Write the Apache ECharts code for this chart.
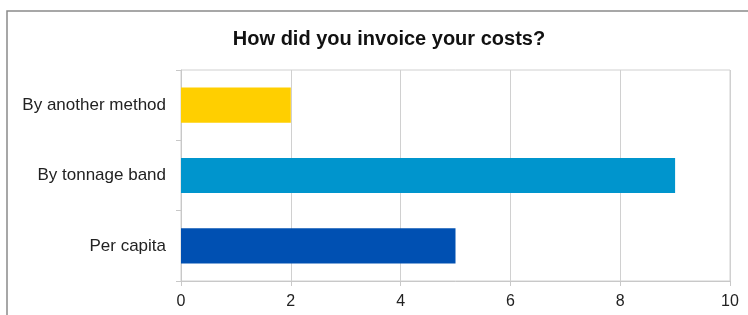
<!DOCTYPE html>
<head>
    <meta charset="utf-8">
    <title>ECharts</title>
</head>
<body style="margin:0px;padding:0px;background:#fff;">
    <div id="main" style="width:748px;height:315px;"></div>
    <script src="https://cdn.jsdelivr.net/npm/echarts@6/dist/echarts.min.js"></script>
    <script type="text/javascript">
    // categories bottom -> top
    var categories = ['Per capita', 'By tonnage band', 'By another method'];
    var values = [5, 9, 2];
    var barColors = ['#0050b2', '#0095cd', '#ffcf00'];
    var xTicks = [0, 2, 4, 6, 8, 10];

    var myChart = echarts.init(document.getElementById('main'));

    var option = {
        backgroundColor: '#fff',
        textStyle: { fontFamily: 'Liberation Sans, Arial, sans-serif' },
        title: {
            text: 'How did you invoice your costs?',
            left: 384,
            textAlign: 'center',
            top: 24,
            textStyle: { fontSize: 20, fontWeight: 'bold', color: '#111' }
        },
        graphic: [{
            type: 'rect',
            shape: { x: 7, y: 11, width: 760, height: 320 },
            style: { fill: 'none', stroke: '#8a8a8a', lineWidth: 1.5 },
            silent: true
        }],
        grid: {
            left: 181,
            right: 18,
            top: 70,
            bottom: 34,
            show: true,
            borderColor: '#d0d0d0',
            borderWidth: 1
        },
        xAxis: {
            type: 'value',
            min: xTicks[0],
            max: xTicks[xTicks.length - 1],
            interval: 2,
            axisLine: { show: true, lineStyle: { color: '#c8c8c8' } },
            axisTick: { show: true, length: 5, lineStyle: { color: '#c8c8c8' } },
            axisLabel: { fontSize: 16, color: '#222', margin: 13 },
            splitLine: { show: true, lineStyle: { color: '#d0d0d0' } }
        },
        yAxis: {
            type: 'category',
            data: categories,
            axisLine: { show: true, lineStyle: { color: '#c8c8c8' } },
            axisTick: { show: true, length: 5, lineStyle: { color: '#c8c8c8' } },
            axisLabel: { fontSize: 17, color: '#222', margin: 15 }
        },
        series: [{
            type: 'bar',
            barCategoryGap: '50%',
            data: values.map(function (v, i) {
                return { value: v, itemStyle: { color: barColors[i] } };
            })
        }]
    };
    myChart.setOption(option);
    </script>
</body>
